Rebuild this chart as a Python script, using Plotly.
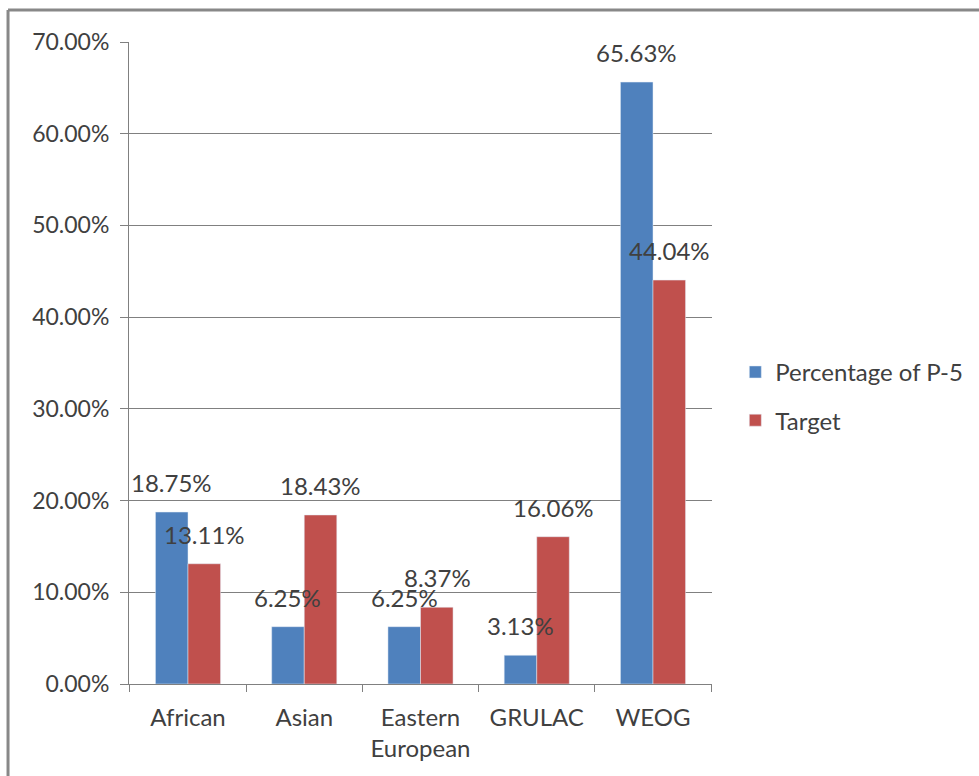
import plotly.graph_objects as go

categories = ["African", "Asian", "Eastern<br>European", "GRULAC", "WEOG"]
p5_values = [0.1875, 0.0625, 0.0625, 0.0313, 0.6563]
target_values = [0.1311, 0.1843, 0.0837, 0.1606, 0.4404]
series_names = ["Percentage of P-5", "Target"]
y_ticks = [0, 0.1, 0.2, 0.3, 0.4, 0.5, 0.6, 0.7]

BLUE = "#4F81BD"
RED = "#C0504D"
FONT = "Lato"
TXT = "#404040"
FS = 23

fig = go.Figure()
fig.add_trace(go.Bar(x=categories, y=p5_values, name=series_names[0],
                     marker_color=BLUE, legendgroup="a"))
fig.add_trace(go.Bar(x=categories, y=target_values, name=series_names[1],
                     marker_color=RED, legendgroup="b"))

annotations = []
for vals, shift in ((p5_values, -16.5), (target_values, 16.5)):
    for c, v in zip(categories, vals):
        annotations.append(dict(x=c, y=v, xref="x", yref="y", text=f"{v*100:.2f}%",
                                showarrow=False, yanchor="bottom", xshift=shift, yshift=13,
                                font=dict(family=FONT, size=24, color=TXT)))

fig.update_layout(
    width=979, height=776,
    margin=dict(l=129, r=267, t=42, b=92, autoexpand=False),
    paper_bgcolor="white", plot_bgcolor="white",
    barmode="group", bargap=0.44, bargroupgap=0,
    font=dict(family=FONT, size=FS, color=TXT),
    showlegend=True,
    legend=dict(x=1.04, y=0.448, xanchor="left", yanchor="middle",
                traceorder="grouped", tracegroupgap=14,
                font=dict(family=FONT, size=24, color=TXT)),
    annotations=annotations,
    shapes=[
        dict(type="line", xref="paper", yref="paper", x0=-0.2075, x1=1.5, y0=1.0498, y1=1.0498,
             line=dict(color="#888888", width=3)),
        dict(type="line", xref="paper", yref="paper", x0=-0.2075, x1=-0.2075, y0=1.0498, y1=-0.2,
             line=dict(color="#888888", width=3)),
    ],
)
fig.update_yaxes(range=[0, 0.7], tickvals=y_ticks, tickformat=".2%",
                 showgrid=True, gridcolor="#808080", gridwidth=1,
                 showline=True, linecolor="#808080", linewidth=1,
                 ticks="outside", ticklen=8, tickcolor="#808080", ticklabelstandoff=6,
                 zeroline=False, tickfont=dict(family=FONT, size=FS, color=TXT))
fig.update_xaxes(showline=True, linecolor="#808080", linewidth=1,
                 ticks="outside", ticklen=7, tickcolor="#808080", tickson="boundaries",
                 ticklabelstandoff=12,
                 tickfont=dict(family=FONT, size=24, color=TXT))

fig.write_html("out.html")
